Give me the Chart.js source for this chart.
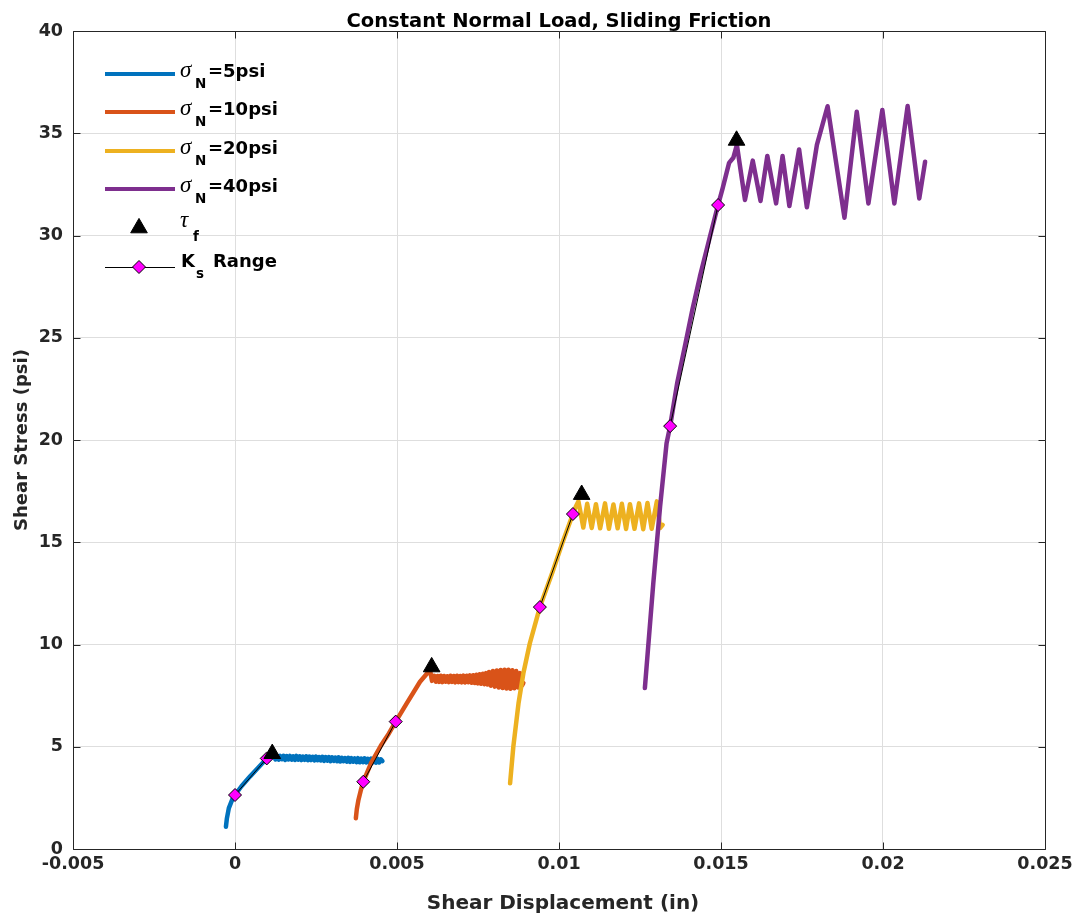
<!DOCTYPE html>
<html>
<head>
<meta charset="utf-8">
<script src="https://cdn.jsdelivr.net/npm/chart.js@4.4.1/dist/chart.umd.min.js"></script>
<style>
  html, body { margin: 0; padding: 0; background: #ffffff; }
  #wrap { width: 1078px; height: 918px; position: relative; }
  canvas { display: block; }
</style>
</head>
<body>
<div id="wrap"><canvas id="chart" width="1078" height="918"></canvas></div>
<script>
// ---- axis ticks ----
const xTicks = [-0.005, 0, 0.005, 0.01, 0.015, 0.02, 0.025];
const xTickLabels = ['-0.005', '0', '0.005', '0.01', '0.015', '0.02', '0.025'];
const yTicks = [0, 5, 10, 15, 20, 25, 30, 35, 40];
const yTickLabels = ['0', '5', '10', '15', '20', '25', '30', '35', '40'];

// ---- normal stress levels (legend) ----
const normalLoads = ['5psi', '10psi', '20psi', '40psi'];

// ---- shear displacement (in) / shear stress (psi) per test ----
const x5 = [-0.00028, -0.00025, -0.00019, -0.00008, 0.0, 0.0002, 0.00046, 0.0007, 0.00098, 0.00112,
  0.00120, 0.00125, 0.00130, 0.00135, 0.00140, 0.00145, 0.00150, 0.00155, 0.00160, 0.00165,
  0.00170, 0.00175, 0.00180, 0.00185, 0.00190, 0.00195, 0.00200, 0.00205, 0.00210, 0.00215,
  0.00220, 0.00225, 0.00230, 0.00235, 0.00240, 0.00245, 0.00250, 0.00255, 0.00260, 0.00265,
  0.00270, 0.00275, 0.00280, 0.00285, 0.00290, 0.00295, 0.00300, 0.00305, 0.00310, 0.00315,
  0.00320, 0.00325, 0.00330, 0.00335, 0.00340, 0.00345, 0.00350, 0.00355, 0.00360, 0.00365,
  0.00370, 0.00375, 0.00380, 0.00385, 0.00390, 0.00395, 0.00400, 0.00405, 0.00410, 0.00415,
  0.00420, 0.00425, 0.00430, 0.00435, 0.00440, 0.00445, 0.00450, 0.00455];
const y5 = [1.09, 1.5, 2.0, 2.44, 2.64, 3.07, 3.54, 3.95, 4.43, 4.55,
  4.55, 4.38, 4.56, 4.37, 4.55, 4.39, 4.56, 4.36, 4.54, 4.38,
  4.55, 4.37, 4.53, 4.36, 4.55, 4.37, 4.53, 4.35, 4.52, 4.36,
  4.53, 4.34, 4.52, 4.35, 4.51, 4.33, 4.52, 4.34, 4.50, 4.33,
  4.51, 4.31, 4.49, 4.32, 4.50, 4.30, 4.48, 4.31, 4.47, 4.29,
  4.48, 4.28, 4.46, 4.29, 4.45, 4.27, 4.46, 4.26, 4.44, 4.27,
  4.43, 4.25, 4.44, 4.24, 4.42, 4.25, 4.43, 4.23, 4.41, 4.22,
  4.42, 4.23, 4.40, 4.22, 4.41, 4.23, 4.39, 4.30];

const x10 = [0.00373, 0.00376, 0.00381, 0.00388, 0.00396, 0.0042, 0.0045, 0.00475, 0.00496, 0.0053,
  0.00571, 0.00602, 0.00608,
  0.00615, 0.0062, 0.00625, 0.0063, 0.00635, 0.0064, 0.00645, 0.0065, 0.00655, 0.0066,
  0.00665, 0.0067, 0.00675, 0.0068, 0.00685, 0.0069, 0.00695, 0.0070, 0.00705, 0.0071,
  0.00715, 0.0072, 0.00725, 0.0073, 0.00735, 0.0074, 0.00745, 0.0075, 0.00755, 0.0076,
  0.00765, 0.0077, 0.00775, 0.0078,
  0.00784, 0.0079, 0.00796, 0.00802, 0.00808, 0.00814, 0.0082, 0.00826, 0.00832, 0.00838,
  0.00844, 0.0085, 0.00856, 0.00862, 0.00868, 0.00874, 0.0088, 0.00886, 0.0089];
const y10 = [1.50, 1.95, 2.40, 2.85, 3.29, 4.2, 5.05, 5.65, 6.23, 7.12,
  8.18, 8.75, 8.22,
  8.47, 8.18, 8.46, 8.17, 8.47, 8.16, 8.46, 8.18, 8.45, 8.16,
  8.47, 8.17, 8.46, 8.15, 8.47, 8.16, 8.46, 8.15, 8.48, 8.14,
  8.47, 8.15, 8.49, 8.13, 8.50, 8.12, 8.52, 8.10, 8.55, 8.08,
  8.57, 8.06, 8.60, 8.04,
  8.66, 7.98, 8.70, 7.94, 8.73, 7.90, 8.75, 7.87, 8.76, 7.85,
  8.76, 7.84, 8.74, 7.86, 8.70, 7.90, 8.60, 8.00, 8.12];

const x20 = [0.00849, 0.00859, 0.00875, 0.0089, 0.0091, 0.00941, 0.0098, 0.0101, 0.01043, 0.01052, 0.0106,
  0.01075, 0.01087, 0.01101, 0.01114, 0.01127, 0.01142, 0.01154, 0.01168, 0.01181, 0.01194,
  0.01207, 0.01219, 0.01233, 0.01247, 0.0126, 0.01273, 0.01286, 0.01302, 0.01312, 0.0132];
const y20 = [3.21, 5.0, 7.12, 8.59, 10.06, 11.83, 13.55, 14.95, 16.38, 16.75, 17.0,
  15.72, 16.88, 15.70, 16.86, 15.68, 16.90, 15.66, 16.85, 15.68, 16.88,
  15.65, 16.86, 15.66, 16.90, 15.64, 16.92, 15.66, 17.0, 15.70, 15.85];

const x40 = [0.01265, 0.01291, 0.01312, 0.01332, 0.01343, 0.01365, 0.0139, 0.01412, 0.01435, 0.01466,
  0.01491, 0.01505, 0.01525, 0.01538, 0.01549,
  0.01574, 0.01598, 0.01622, 0.01643, 0.0167, 0.0169, 0.01711, 0.01741, 0.01765, 0.01796,
  0.01829, 0.01881, 0.01919, 0.01955, 0.01998, 0.02035, 0.02076, 0.02112, 0.0213];
const y40 = [7.87, 12.99, 16.74, 19.84, 20.68, 22.8, 24.7, 26.4, 28.0, 29.95,
  31.49, 32.3, 33.55, 33.8, 34.43,
  31.74, 33.66, 31.69, 33.89, 31.57, 33.89, 31.44, 34.21, 31.38, 34.43,
  36.32, 30.87, 36.05, 31.57, 36.14, 31.57, 36.33, 31.81, 33.61];

// ---- failure shear stress (tau_f) ----
const tauX = [0.00115, 0.00607, 0.0107, 0.01548];
const tauY = [4.66, 8.90, 17.33, 34.65];

// ---- stiffness (Ks) fitting range end points, one pair per test ----
const ksX = [[0.0, 0.00098], [0.00396, 0.00496], [0.00941, 0.01043], [0.01343, 0.01491]];
const ksY = [[2.64, 4.43], [3.29, 6.23], [11.83, 16.38], [20.68, 31.49]];

const seriesX = [x5, x10, x20, x40];
const seriesY = [y5, y10, y20, y40];
const seriesColors = ['#0072BD', '#D95319', '#EDB120', '#7E2F8E'];

const FONT = '"DejaVu Sans", "Liberation Sans", sans-serif';
const AXIS_COLOR = '#262626';
const toPoints = (xs, ys) => xs.map((x, i) => ({ x: x, y: ys[i] }));

const datasets = [];
seriesX.forEach((xs, i) => {
  datasets.push({
    label: '\u03C3N=' + normalLoads[i],
    data: toPoints(xs, seriesY[i]),
    showLine: true,
    borderColor: seriesColors[i],
    backgroundColor: seriesColors[i],
    borderWidth: 4.5,
    borderJoinStyle: 'round',
    borderCapStyle: 'round',
    pointRadius: 0,
    tension: 0,
    order: 10 - i
  });
});
ksX.forEach((xs, i) => {
  datasets.push({
    label: 'Ks Range',
    data: toPoints(xs, ksY[i]),
    showLine: true,
    borderColor: '#000000',
    borderWidth: 1,
    pointStyle: 'rectRot',
    pointRadius: 6.5,
    pointBackgroundColor: '#FF00FF',
    pointBorderColor: '#000000',
    pointBorderWidth: 1,
    order: 2
  });
});
datasets.push({
  label: 'tau_f',
  data: toPoints(tauX, tauY),
  showLine: false,
  pointStyle: 'triangle',
  pointRadius: 9.6,
  pointBackgroundColor: '#000000',
  pointBorderColor: '#000000',
  pointBorderWidth: 1,
  order: 1
});

// Full box with inward tick marks on all four sides
const boxPlugin = {
  id: 'box',
  beforeDatasetsDraw(chart) {
    const { ctx, chartArea: a, scales } = chart;
    ctx.save();
    ctx.strokeStyle = AXIS_COLOR;
    ctx.lineWidth = 1;
    const L = Math.round(a.left) + 0.5, R = Math.round(a.right) + 0.5;
    const T = Math.round(a.top) + 0.5, B = Math.round(a.bottom) + 0.5;
    ctx.beginPath();
    ctx.rect(L, T, R - L, B - T);
    const tl = 7;
    xTicks.forEach(v => {
      const px = Math.round(scales.x.getPixelForValue(v)) + 0.5;
      ctx.moveTo(px, B); ctx.lineTo(px, B - tl);
      ctx.moveTo(px, T); ctx.lineTo(px, T + tl);
    });
    yTicks.forEach(v => {
      const py = Math.round(scales.y.getPixelForValue(v)) + 0.5;
      ctx.moveTo(L, py); ctx.lineTo(L + tl, py);
      ctx.moveTo(R, py); ctx.lineTo(R - tl, py);
    });
    ctx.stroke();
    ctx.restore();
  }
};

// Title, axis titles
const titlePlugin = {
  id: 'titles',
  afterDraw(chart) {
    const { ctx, chartArea: a } = chart;
    const cx = (a.left + a.right) / 2, cy = (a.top + a.bottom) / 2;
    ctx.save();
    ctx.fillStyle = '#000000';
    ctx.textAlign = 'center';
    ctx.textBaseline = 'alphabetic';
    ctx.font = 'bold 19.5px ' + FONT;
    ctx.fillText('Constant Normal Load, Sliding Friction', cx, 27);
    ctx.fillStyle = AXIS_COLOR;
    ctx.font = 'bold 20px ' + FONT;
    ctx.fillText('Shear Displacement (in)', cx + 4, 909);
    ctx.font = 'bold 18px ' + FONT;
    ctx.translate(27, cy);
    ctx.rotate(-Math.PI / 2);
    ctx.fillText('Shear Stress (psi)', 0, 0);
    ctx.restore();
  }
};

// Legend with subscripted symbols, no surrounding box
const legendPlugin = {
  id: 'subLegend',
  afterDraw(chart) {
    const ctx = chart.ctx;
    const x0 = 105, x1 = 175, mx = 139;
    const rows = [74, 112, 151, 189];
    ctx.save();
    ctx.textAlign = 'left';
    ctx.textBaseline = 'alphabetic';
    ctx.fillStyle = '#000000';
    const symFont = 'italic 23px "Liberation Serif", "DejaVu Serif", serif';
    const mainFont = 'bold 18px ' + FONT;
    const subFont = 'bold 13.5px ' + FONT;
    rows.forEach((y, i) => {
      const ds = chart.data.datasets[i];
      ctx.strokeStyle = ds.borderColor;
      ctx.lineWidth = 4;
      ctx.beginPath();
      ctx.moveTo(x0, y); ctx.lineTo(x1, y);
      ctx.stroke();
      const base = y + 3;
      ctx.font = symFont;
      ctx.fillText('\u03C3', 180, base);
      ctx.font = subFont;
      ctx.fillText('N', 195, base + 11);
      ctx.font = mainFont;
      ctx.fillText('=' + normalLoads[i], 208, base);
    });
    // tau_f entry
    const tauDs = chart.data.datasets[chart.data.datasets.length - 1];
    ctx.fillStyle = tauDs.pointBackgroundColor;
    ctx.strokeStyle = tauDs.pointBorderColor;
    ctx.lineWidth = 1;
    Chart.helpers.drawPoint(ctx, { pointStyle: 'triangle', radius: tauDs.pointRadius, rotation: 0, borderWidth: 1 }, mx, 228);
    ctx.fillStyle = '#000000';
    ctx.font = symFont;
    ctx.fillText('\u03C4', 180, 227);
    ctx.font = subFont;
    ctx.fillText('f', 193, 241);
    // Ks entry
    const ksDs = chart.data.datasets[4];
    const ky = 267;
    ctx.strokeStyle = '#000000';
    ctx.lineWidth = 1;
    ctx.beginPath();
    ctx.moveTo(x0, ky + 0.5); ctx.lineTo(x1, ky + 0.5);
    ctx.stroke();
    ctx.fillStyle = ksDs.pointBackgroundColor;
    ctx.strokeStyle = ksDs.pointBorderColor;
    Chart.helpers.drawPoint(ctx, { pointStyle: 'rectRot', radius: ksDs.pointRadius, rotation: 0, borderWidth: 1 }, mx, ky);
    ctx.fillStyle = '#000000';
    ctx.font = mainFont;
    ctx.fillText('K', 181, ky);
    ctx.font = subFont;
    ctx.fillText('s', 196, ky + 11);
    ctx.font = mainFont;
    ctx.fillText('Range', 213, ky);
    ctx.restore();
  }
};

new Chart(document.getElementById('chart'), {
  type: 'scatter',
  data: { datasets: datasets },
  options: {
    responsive: false,
    animation: false,
    devicePixelRatio: 1,
    layout: { padding: { top: 31, right: 33, left: 0, bottom: 0 } },
    plugins: { legend: { display: false }, tooltip: { enabled: false }, title: { display: false } },
    scales: {
      x: {
        type: 'linear',
        min: -0.005, max: 0.025,
        afterBuildTicks: s => { s.ticks = xTicks.map(v => ({ value: v })); },
        afterFit: s => { s.height = 69; },
        ticks: {
          callback: (v, i) => xTickLabels[i],
          autoSkip: false, maxRotation: 0,
          padding: 5,
          color: AXIS_COLOR,
          font: { family: FONT, size: 17.5, weight: 'bold' }
        },
        grid: { color: '#dedede', lineWidth: 1, drawTicks: false },
        border: { display: false }
      },
      y: {
        type: 'linear',
        min: 0, max: 40,
        afterBuildTicks: s => { s.ticks = yTicks.map(v => ({ value: v })); },
        afterFit: s => { s.width = 73; },
        ticks: {
          callback: (v, i) => yTickLabels[i],
          autoSkip: false,
          padding: 10,
          color: AXIS_COLOR,
          font: { family: FONT, size: 17.5, weight: 'bold' }
        },
        grid: { color: '#dedede', lineWidth: 1, drawTicks: false },
        border: { display: false }
      }
    }
  },
  plugins: [boxPlugin, titlePlugin, legendPlugin]
});
</script>
</body>
</html>
